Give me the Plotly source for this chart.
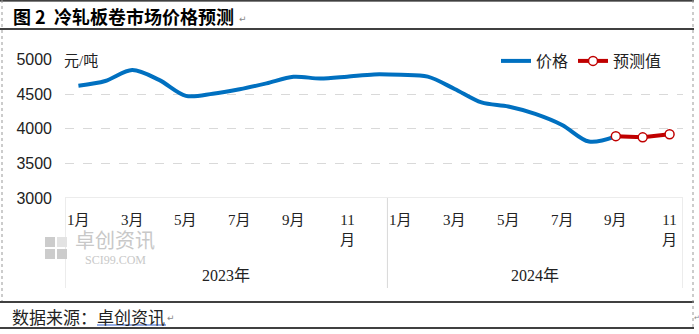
import plotly.graph_objects as go

# ---- data ----
years = ["2023年", "2024年"]
months_2023 = [f"{m}月" for m in range(1, 13)]
months_2024 = [f"{m}月" for m in range(1, 12)]
month_labels = months_2023 + months_2024

price = [4622, 4690, 4848, 4705, 4475, 4505, 4570, 4655, 4750, 4725, 4752, 4785,
         4778, 4752, 4575, 4380, 4322, 4215, 4055, 3815, 3890]
forecast = [3893, 3876, 3920]
forecast_start = 20  # 2024年9月

y_ticks = [3000, 3500, 4000, 4500, 5000]

W, H = 699, 334


def px(x):
    return x / W


def py(y):
    return 1 - y / H


idx = list(range(len(month_labels)))
CJK = "Liberation Serif, Noto Sans CJK SC"
GRID = "#d9d9d9"

fig = go.Figure()
fig.add_trace(go.Scatter(
    x=idx[:len(price)], y=price, mode="lines", name="价格",
    line=dict(color="#0070C0", width=4, shape="spline", smoothing=0.9),
))
fig.add_trace(go.Scatter(
    x=idx[forecast_start:forecast_start + len(forecast)], y=forecast,
    mode="lines+markers", name="预测值",
    line=dict(color="#C00000", width=4),
    marker=dict(symbol="circle", size=9, color="white",
                line=dict(color="#C00000", width=1.5)),
))

shapes = []
# category frame below the plot
n = len(month_labels)
bottom = py(288)
for xv in (-0.5, len(months_2023) - 0.5, n - 0.5):
    shapes.append(dict(type="line", xref="x", yref="paper", x0=xv, x1=xv,
                       y0=bottom, y1=py(198), line=dict(color=GRID, width=1)))
shapes.append(dict(type="line", xref="x", yref="y", x0=-0.5, x1=n - 0.5,
                   y0=3000, y1=3000, line=dict(color=GRID, width=1)))
# page rules
for yy in (0.8, 29, 302, 328):
    shapes.append(dict(type="line", xref="paper", yref="paper", x0=0, x1=px(694),
                       y0=py(yy), y1=py(yy), line=dict(color="black", width=1.3)))
shapes.append(dict(type="line", xref="paper", yref="paper", x0=px(2), x1=px(2),
                   y0=py(0), y1=py(301), line=dict(color="#999999", width=1, dash="dot")))
shapes.append(dict(type="line", xref="paper", yref="paper", x0=px(693), x1=px(693),
                   y0=py(0), y1=py(329), line=dict(color="#999999", width=1, dash="dot")))
# source underline
shapes.append(dict(type="line", xref="paper", yref="paper", x0=px(97), x1=px(166),
                   y0=py(325), y1=py(325), line=dict(color="#2f5fd0", width=1.2)))
# logo blocks
logo_gray = "#cccccc"
for (x0, y0, col) in [(45, 237, logo_gray), (57, 237, "#e3e3e3"),
                      (45, 249, logo_gray), (57, 249, logo_gray)]:
    shapes.append(dict(type="rect", xref="paper", yref="paper",
                       x0=px(x0), x1=px(x0 + 10), y0=py(y0 + 10), y1=py(y0),
                       fillcolor=col, line=dict(width=0)))

annotations = []


def note(x, y, text, font, xanchor="center", yanchor="middle", xref="paper"):
    annotations.append(dict(x=x, y=y, xref=xref, yref="paper", text=text,
                            showarrow=False, xanchor=xanchor, yanchor=yanchor,
                            borderpad=0, font=font))


# month tick labels (odd months)
for i, lab in enumerate(month_labels):
    m = int(lab[:-1])
    if m % 2 == 0:
        continue
    text = lab if m < 10 else lab[:-1] + "<br>月"
    note(i, py(211), text, dict(family=CJK, size=15, color="#222222"),
         yanchor="top", xref="x")
# year labels
note((len(months_2023) - 1) / 2, py(275), years[0],
     dict(family=CJK, size=16, color="#222222"), xref="x")
note(len(months_2023) + (len(months_2024) - 1) / 2, py(275), years[1],
     dict(family=CJK, size=16, color="#222222"), xref="x")
# unit
note(px(63), py(61), "元/吨", dict(family=CJK, size=15, color="#222222"), xanchor="left")
# title
note(px(12), py(16), "<b>图 2  冷轧板卷市场价格预测</b>",
     dict(family="Noto Sans CJK SC", size=18, color="black"), xanchor="left")
note(px(238), py(19), "↵", dict(family="DejaVu Sans", size=9, color="#888888"),
     xanchor="left")
# source
note(px(11), py(316), "数据来源：卓创资讯",
     dict(family="Noto Sans CJK SC", size=17, color="#222222"), xanchor="left")
note(px(166), py(318), "↵", dict(family="DejaVu Sans", size=9, color="#888888"),
     xanchor="left")
note(px(697), py(318), "↵", dict(family="DejaVu Sans", size=7, color="#888888"),
     xanchor="center")
# watermark
note(px(115), py(241), "卓创资讯",
     dict(family="Liberation Serif, Noto Sans CJK SC", size=20, color="#c8c8c8"))
note(px(115), py(260), "SCI99.COM",
     dict(family="Liberation Serif", size=12, color="#c8c8c8"))

fig.update_layout(
    width=W, height=H, margin=dict(l=0, r=0, t=0, b=0, autoexpand=False),
    paper_bgcolor="white", plot_bgcolor="white",
    shapes=shapes, annotations=annotations,
    showlegend=True,
    legend=dict(orientation="h", x=px(496), y=py(61), xanchor="left", yanchor="middle",
                bgcolor="rgba(0,0,0,0)", font=dict(family=CJK, size=16, color="#222222"),
                itemwidth=30, tracegroupgap=0),
    xaxis=dict(domain=[px(65), px(683)], range=[-0.5, n - 0.5], showgrid=False,
               showticklabels=False, zeroline=False, showline=False, fixedrange=True,
               automargin=False),
    yaxis=dict(domain=[py(198), py(59.5)], range=[3000, 5000], tickvals=y_ticks,
               showgrid=True, gridcolor=GRID, griddash="dash", gridwidth=1,
               zeroline=False, showline=False, ticklabelstandoff=12, automargin=False,
               tickfont=dict(family="Liberation Sans", size=16, color="#222222")),
)

fig.write_html("out.html")
